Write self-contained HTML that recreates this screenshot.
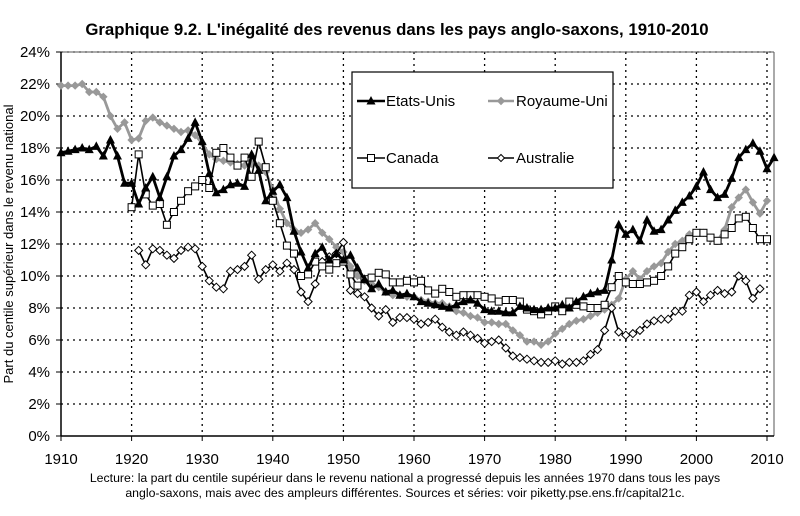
<!DOCTYPE html><html><head><meta charset="utf-8"><style>
body{margin:0;background:#fff;width:800px;height:511px;overflow:hidden;font-family:"Liberation Sans",Arial,sans-serif}
</style></head><body>
<svg id="s" width="800" height="511" xmlns="http://www.w3.org/2000/svg" font-family="Liberation Sans, Arial, sans-serif">
<text x="397" y="35" text-anchor="middle" font-size="16.8" font-weight="bold">Graphique 9.2. L'inégalité des revenus dans les pays anglo-saxons, 1910-2010</text>
<text transform="translate(13,244) rotate(-90)" text-anchor="middle" font-size="13">Part du centile supérieur dans le revenu national</text>
<text x="405" y="482" text-anchor="middle" font-size="12.3">Lecture: la part du centile supérieur dans le revenu national a progressé depuis les années 1970 dans tous les pays</text>
<text x="405" y="497" text-anchor="middle" font-size="12.3">anglo-saxons, mais avec des ampleurs différentes. Sources et séries: voir piketty.pse.ens.fr/capital21c.</text>
<g id="g"></g>
</svg>
<script>
var X=function(y){return 61+7.06*(y-1910)},Y=function(v){return 436-16*v};
var h='';
for(var i=1;i<=12;i++){var y=Y(i*2);h+='<line x1="61" x2="774" y1="'+y+'" y2="'+y+'" stroke="#000" stroke-width="1.3" stroke-dasharray="2,4"/>';}
for(var d=1920;d<=2010;d+=10){var x=X(d);h+='<line x1="'+x+'" x2="'+x+'" y1="52" y2="436" stroke="#000" stroke-width="1.3" stroke-dasharray="2,4"/>';}
h+='<line x1="61" y1="52" x2="774" y2="52" stroke="#555"/><line x1="774" y1="52" x2="774" y2="436" stroke="#555"/>';
h+='<line x1="61" y1="52" x2="61" y2="436" stroke="#000" stroke-width="1.5"/><line x1="61" y1="436" x2="774" y2="436" stroke="#000" stroke-width="1.5"/>';
for(var i=0;i<=12;i++){var y=Y(i*2);h+='<line x1="56" x2="61" y1="'+y+'" y2="'+y+'" stroke="#000"/><text x="50" y="'+(y+5)+'" text-anchor="end" font-size="15">'+(i*2)+'%</text>';}
for(var d=1910;d<=2010;d+=10){var x=X(d);h+='<line x1="'+x+'" x2="'+x+'" y1="436" y2="441" stroke="#000"/><text x="'+x+'" y="464" text-anchor="middle" font-size="15">'+d+'</text>';}
var us=[17.7,17.8,17.9,18.0,17.9,18.1,17.5,18.5,17.5,15.8,15.8,14.5,15.5,16.2,14.9,16.2,17.5,17.9,18.6,19.6,18.4,16.4,15.2,15.4,15.7,15.8,15.6,17.6,16.6,14.7,15.3,15.7,14.9,12.8,11.5,10.5,11.4,11.8,11.0,11.4,11.0,11.3,10.5,9.8,9.2,9.5,9.0,9.1,8.8,8.9,8.7,8.4,8.3,8.2,8.1,8.0,8.2,8.4,8.5,8.3,7.9,7.8,7.8,7.7,7.7,8.1,8.0,7.9,7.9,8.0,8.0,8.2,8.0,8.4,8.7,8.9,9.0,9.1,11.0,13.2,12.6,12.9,12.2,13.5,12.8,12.9,13.5,14.1,14.6,15.0,15.6,16.5,15.4,14.9,15.1,16.1,17.4,17.9,18.3,17.8,16.7,17.4];
var uk=[21.9,21.9,21.9,22.0,21.5,21.5,21.2,20.0,19.2,19.6,18.5,18.6,19.7,19.9,19.6,19.4,19.2,19.0,19.1,18.8,18.3,17.6,17.3,17.2,17.1,17.0,16.9,17.0,16.9,16.5,15.4,14.2,13.3,12.9,12.7,12.9,13.3,12.7,12.3,11.8,11.5,10.6,10.0,9.7,9.5,9.3,9.0,8.8,8.8,8.7,8.7,8.5,8.4,8.3,8.3,8.1,7.8,7.7,7.5,7.4,7.1,7.1,7.0,7.0,6.6,6.3,5.9,5.9,5.7,5.9,6.4,6.7,7.0,7.2,7.3,7.5,7.7,7.9,8.2,8.6,9.8,10.3,9.8,10.3,10.6,10.8,11.5,12.0,12.2,12.6,12.7,12.7,12.3,12.2,12.9,14.3,14.9,15.4,14.6,13.9,14.7];
var ca=[14.3,17.6,15.1,14.4,14.5,13.2,14.0,14.7,15.3,15.6,16.0,15.5,17.7,18.0,17.4,16.9,17.4,16.2,18.4,16.8,14.7,13.3,11.9,11.4,10.0,10.1,10.9,10.6,10.4,10.8,10.9,10.1,9.4,9.8,9.9,10.2,10.1,9.6,9.6,9.7,9.6,9.7,9.1,8.9,9.2,9.0,8.7,8.8,8.8,8.8,8.7,8.6,8.4,8.5,8.5,8.4,7.9,7.8,7.6,7.8,8.1,7.8,8.4,8.2,8.1,8.0,8.0,8.2,9.3,10.0,9.6,9.5,9.5,9.6,9.7,10.0,10.6,11.4,11.8,12.3,12.7,12.7,12.4,12.2,12.6,13.0,13.6,13.7,13.0,12.3,12.3];
var au=[11.6,10.7,11.7,11.6,11.3,11.1,11.6,11.8,11.7,10.6,9.7,9.3,9.2,10.3,10.4,10.6,11.3,9.8,10.4,10.7,10.3,10.8,10.4,9.0,8.4,9.5,10.9,11.2,11.4,12.1,9.1,8.9,8.7,8.0,7.5,7.9,7.1,7.4,7.4,7.3,7.0,7.1,7.3,6.8,6.5,6.3,6.5,6.3,6.1,5.8,5.9,6.0,5.5,5.0,4.9,4.8,4.7,4.6,4.6,4.7,4.5,4.6,4.6,4.7,5.1,5.4,6.6,8.0,6.5,6.3,6.4,6.6,7.0,7.2,7.3,7.3,7.8,7.8,8.8,9.0,8.4,8.8,9.1,8.9,9.0,10.0,9.7,8.6,9.2];
function pts(a,s){return a.map(function(v,i){return [X(s+i),Y(v)]})}
function line(p,c,w){return '<polyline fill="none" stroke="'+c+'" stroke-width="'+w+'" points="'+p.map(function(q){return q.join(',')}).join(' ')+'"/>'}
function tri(x,y){return '<polygon points="'+x+','+(y-5)+' '+(x-4.5)+','+(y+3.5)+' '+(x+4.5)+','+(y+3.5)+'" fill="#000"/>'}
function dia(x,y,f,s,r){return '<polygon points="'+x+','+(y-r)+' '+(x+r)+','+y+' '+x+','+(y+r)+' '+(x-r)+','+y+'" fill="'+f+'" stroke="'+s+'"/>'}
function sq(x,y){return '<rect x="'+(x-3.5)+'" y="'+(y-3.5)+'" width="7" height="7" fill="#fff" stroke="#000"/>'}
var P;
P=pts(uk,1910);h+=line(P,'#999',2.8);P.forEach(function(q){h+=dia(q[0],q[1],'#999','#999',3.5)});
P=pts(au,1921);h+=line(P,'#000',1.6);P.forEach(function(q){h+=dia(q[0],q[1],'#fff','#000',4)});
P=pts(ca,1920);h+=line(P,'#000',1.6);P.forEach(function(q){h+=sq(q[0],q[1])});
P=pts(us,1910);h+=line(P,'#000',2.8);P.forEach(function(q){h+=tri(q[0],q[1])});
h+='<rect x="352" y="72" width="261" height="116" fill="#fff" stroke="#000" stroke-width="1.2"/>';
h+='<line x1="357" x2="385" y1="101" y2="101" stroke="#000" stroke-width="2.5"/>'+tri(371,101)+'<text x="386" y="106" font-size="15">Etats-Unis</text>';
h+='<line x1="488" x2="514" y1="101" y2="101" stroke="#999" stroke-width="2.5"/>'+dia(501,101,'#999','#999',3.5)+'<text x="516" y="106" font-size="15">Royaume-Uni</text>';
h+='<line x1="357" x2="385" y1="158" y2="158" stroke="#000" stroke-width="1.5"/>'+sq(371,158)+'<text x="386" y="163" font-size="15">Canada</text>';
h+='<line x1="488" x2="514" y1="158" y2="158" stroke="#000" stroke-width="1.5"/>'+dia(501,158,'#fff','#000',3.5)+'<text x="516" y="163" font-size="15">Australie</text>';
document.getElementById('g').innerHTML=h;
</script>
</body></html>
